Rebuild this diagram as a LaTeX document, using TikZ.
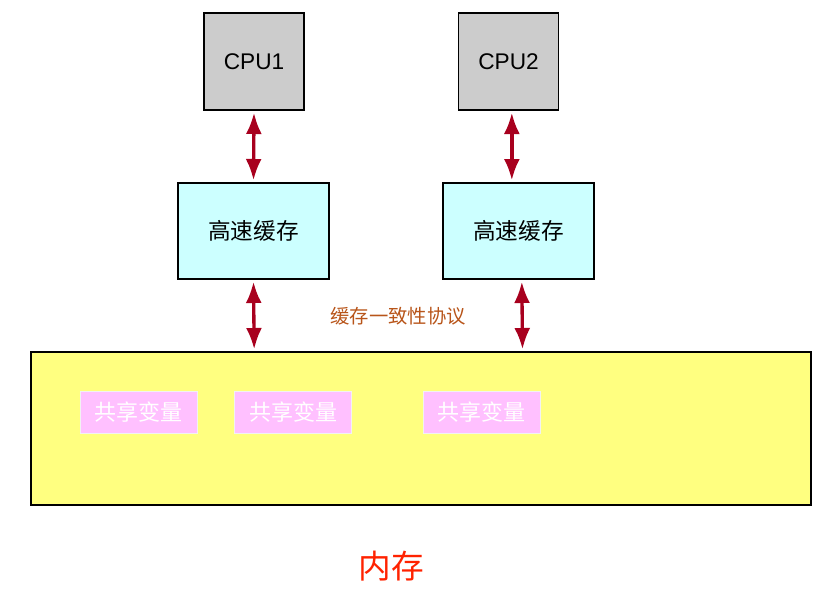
\documentclass[tikz,border=0pt]{standalone}
\usepackage{fontspec}
\setmainfont{Liberation Sans}
\newfontfamily\cjk{Noto Sans CJK SC}
\usetikzlibrary{arrows.meta}
\definecolor{cpugray}{HTML}{CCCCCC}
\definecolor{cachecyan}{HTML}{CCFFFF}
\definecolor{memyellow}{HTML}{FFFF80}
\definecolor{varpink}{HTML}{FFC0FF}
\definecolor{arrowred}{HTML}{A8001E}
\definecolor{protobrown}{HTML}{B8551A}
\definecolor{memred}{HTML}{FF2200}

\begin{document}
\begin{tikzpicture}[x=0.75pt, y=-0.75pt,
    cpu/.style={draw, line width=1pt, fill=cpugray, minimum width=75pt, minimum height=72.75pt, font=\fontsize{17}{20}\selectfont},
    cache/.style={draw, line width=1pt, fill=cachecyan, minimum width=113.25pt, minimum height=72pt, font=\cjk\fontsize{17}{20}\selectfont},
    var/.style={draw=white!90!gray, fill=varpink, text=white, minimum width=87.75pt, minimum height=31.5pt, font=\cjk\fontsize{16.5}{19}\selectfont},
    link/.style={arrowred, line width=2.5pt, {Latex[length=16pt,width=12pt]}-{Latex[length=16pt,width=12pt]}}]
    \useasboundingbox (0,0) rectangle (830,594);
    % memory
    \node[draw, line width=1pt, fill=memyellow, minimum width=585pt, minimum height=114.75pt] (mem) at (421,428.5) {};
    \node[var] (var1) at (138.5,412) {共享变量};
    \node[var] (var2) at (293,412) {共享变量};
    \node[var] (var3) at (481.5,412) {共享变量};
    \node[text=memred, font=\cjk\fontsize{24.5}{28}\selectfont] (memlabel) at (391,566) {内存};
    % cpus and caches
    \node[cpu] (cpu1) at (254,61.5) {CPU1};
    \node[cpu] (cpu2) at (508.5,61.5) {CPU2};
    \node[cache] (cache1) at (253.5,231) {高速缓存};
    \node[cache] (cache2) at (518.5,231) {高速缓存};
    \node[text=protobrown, font=\cjk\fontsize{14.5}{18}\selectfont] (proto) at (398,316) {缓存一致性协议};
    % links
    \draw[link] ([yshift=-1.5pt]cpu1.south) -- ([yshift=1.5pt]cache1.north);
    \draw[link] ([xshift=2.5pt,yshift=-1.5pt]cpu2.south) -- ([xshift=-5pt,yshift=1.5pt]cache2.north);
    \draw[link] ([yshift=-1.5pt]cache1.south) -- ([xshift=0.5pt,yshift=1.5pt]cache1.south |- mem.north);
    \draw[link] ([xshift=2.5pt,yshift=-1.5pt]cache2.south) -- ([xshift=3pt,yshift=1.5pt]cache2.south |- mem.north);
\end{tikzpicture}
\end{document}
